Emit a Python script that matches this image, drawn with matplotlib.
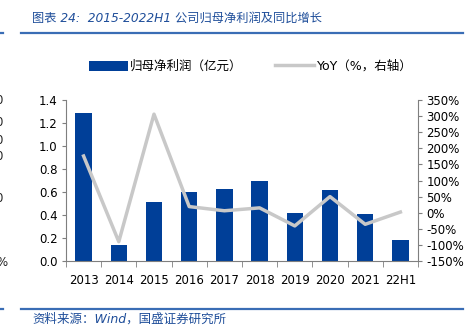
import matplotlib
matplotlib.use('Agg')
import matplotlib.pyplot as plt
import numpy as np

plt.rcParams['font.family'] = ['DejaVu Sans', 'Noto Sans CJK SC']

# data
years = ['2013', '2014', '2015', '2016', '2017', '2018', '2019', '2020', '2021', '22H1']
profit = [1.29, 0.14, 0.51, 0.60, 0.63, 0.70, 0.42, 0.62, 0.41, 0.18]   # 亿元
yoy = [176, -90, 306, 19, 6, 15, -41, 50, -36, 2]                      # %

bar_color = '#003f98'
line_color = '#c8c8c8'
axis_color = '#7f7f7f'
title_color = '#1f4e9a'
cjk = ['DejaVu Sans', 'Noto Sans CJK SC']

fig = plt.figure(figsize=(4.73, 3.33), dpi=100)
ax = fig.add_axes([0.1395, 0.2162, 0.7442, 0.4835])
ax2 = ax.twinx()

x = np.arange(len(years))
ax.bar(x, profit, width=0.47, color=bar_color, label='归母净利润（亿元）', zorder=2)
ax2.plot(x, yoy, color=line_color, lw=2.5, label='YoY（%，右轴）', zorder=3)
ax.set_zorder(1)
ax2.set_zorder(2)
ax2.patch.set_visible(False)

ax.set_xlim(-0.5, len(years) - 0.5)
ax.set_ylim(0, 1.4)
ax.set_yticks(np.arange(0, 1.41, 0.2))
ax.set_yticklabels(['%.1f' % v for v in np.arange(0, 1.41, 0.2)])
ax2.set_ylim(-150, 350)
ax2.set_yticks(np.arange(-150, 351, 50))
ax2.set_yticklabels(['%d%%' % v for v in np.arange(-150, 351, 50)])

ax.set_xticks(x)
ax.set_xticklabels(years)
ax.set_xticks(np.arange(-0.5, len(years), 1), minor=True)
ax.tick_params(axis='x', which='major', length=0, pad=9, labelsize=8.5)
ax.tick_params(axis='x', which='minor', length=4, color=axis_color, direction='out')
ax.tick_params(axis='y', length=3, color=axis_color, labelsize=8.5, pad=3)
ax2.tick_params(axis='y', length=3, color=axis_color, labelsize=8.5, pad=3)

for a in (ax, ax2):
    a.spines['top'].set_visible(False)
    for s in ('left', 'right', 'bottom'):
        a.spines[s].set_color(axis_color)
        a.spines[s].set_linewidth(0.8)
ax.spines['right'].set_visible(False)
ax2.spines['left'].set_visible(False)
ax2.spines['bottom'].set_visible(False)

# legend
h1, l1 = ax.get_legend_handles_labels()
h2, l2 = ax2.get_legend_handles_labels()
fig.legend(h1 + h2, l1 + l2, loc='center', bbox_to_anchor=(0.53, 0.8), ncol=2,
           frameon=False, handlelength=3.1, handleheight=0.9,
           handletextpad=0.2, columnspacing=2.6,
           prop={'family': cjk, 'size': 9})

# title and source
fig.text(0.068, 0.945, '图表 24:  2015-2022H1 公司归母净利润及同比增长', color=title_color,
         fontsize=8.8, style='italic', va='center', family=cjk)
fig.text(0.068, 0.042, '资料来源：Wind，国盛证券研究所', color=title_color,
         fontsize=9, style='italic', va='center', family=cjk)
for yl in (0.9, 0.072):
    fig.add_artist(plt.Line2D([0.045, 0.979], [yl, yl], color='#3a6db5', lw=1.6))
    fig.add_artist(plt.Line2D([0.0, 0.007], [yl, yl], color='#3a6db5', lw=1.6))

# clipped fragments of the neighbouring chart on the left edge
for yy in [100, 123, 140, 157, 198]:
    fig.text(3 / 473, 1 - yy / 333, '0', ha='right', va='center', fontsize=8.5, color='#222222')
fig.text(7 / 473, 1 - 263 / 333, '%', ha='right', va='center', fontsize=8.5, color='#222222')

fig.savefig('out.png', dpi=100)
